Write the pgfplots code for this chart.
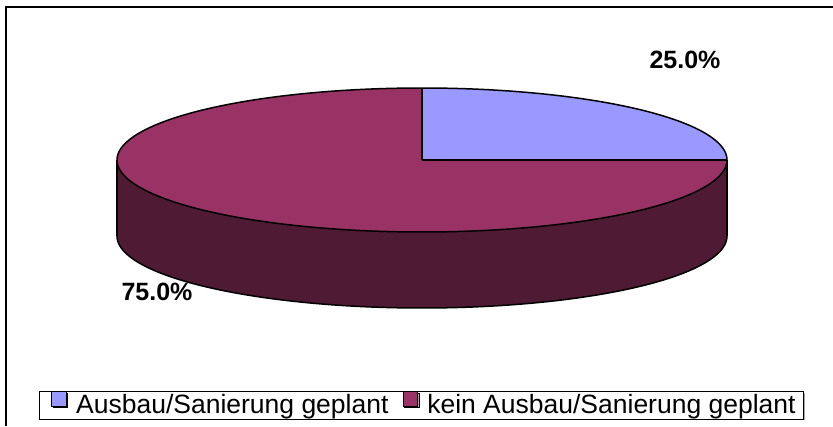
\documentclass[border=0pt]{standalone}
\usepackage{pgfplots}
\pgfplotsset{compat=1.18}
\usepackage{pgfplotstable}
\usepgfplotslibrary{fillbetween}
\usetikzlibrary{shadows}
\usepackage{fontspec}
\setmainfont{Liberation Sans}
\definecolor{pieblue}{RGB}{153,153,255}
\definecolor{piered}{RGB}{153,51,102}
\definecolor{pieside}{RGB}{78,26,52}

\pgfplotstableread{
label value
A 25.0
B 75.0
}\pietable
\pgfplotstablegetelem{0}{value}\of\pietable \edef\valA{\pgfplotsretval}
\pgfplotstablegetelem{1}{value}\of\pietable \edef\valB{\pgfplotsretval}
\pgfmathsetmacro\angS{90}
\pgfmathsetmacro\angA{90-3.6*\valA}
\pgfmathsetmacro\angB{\angA-3.6*\valB}
\def\cx{422}\def\cy{160}\def\rx{305}\def\ry{72}\def\dd{76}

\begin{document}%
\begin{tikzpicture}
\begin{axis}[
  scale only axis, width=833pt, height=426pt,
  xmin=0, xmax=833, ymin=0, ymax=426, y dir=reverse,
  hide axis, clip=true,
  legend style={at={(axis cs:421.5,405)}, anchor=center, draw=black, line width=0.8pt,
    fill=white, font=\fontsize{26.5}{32}\selectfont, legend columns=2,
    inner xsep=8pt, inner ysep=0pt,
    nodes={inner xsep=0pt, inner ysep=0pt, text height=19pt, text depth=5pt},
    drop shadow={shadow xshift=1.5pt, shadow yshift=-1.5pt, fill=gray!70, opacity=1},
    /tikz/every even column/.append style={column sep=10pt}},
  legend image code/.code={\path (-4pt,0pt) (24pt,0pt);\draw[#1, draw=black, line width=0.8pt] (0pt,1pt) rectangle (14.5pt,15.5pt);},
]
% side of the pie (front half)
\addplot[name path=st, draw=none, domain=180:360, samples=180, forget plot] ({\cx+\rx*cos(x)},{\cy-\ry*sin(x)});
\addplot[name path=sb, draw=none, domain=180:360, samples=180, forget plot] ({\cx+\rx*cos(x)},{\cy+\dd-\ry*sin(x)});
\addplot[pieside, forget plot] fill between[of=st and sb];
% slices
\addplot[name path=cc, draw=none, domain=0:1, samples=2, forget plot] ({\cx},{\cy});
\addplot[name path=aA, draw=none, domain=\angA:\angS, samples=100, forget plot] ({\cx+\rx*cos(x)},{\cy-\ry*sin(x)});
\addplot[pieblue, forget plot] fill between[of=aA and cc];
\addplot[name path=aB, draw=none, domain=\angB:\angA, samples=270, forget plot] ({\cx+\rx*cos(x)},{\cy-\ry*sin(x)});
\addplot[piered, forget plot] fill between[of=aB and cc];
% outlines
\addplot[black, line width=1.5pt, domain=0:360, samples=360, forget plot] ({\cx+\rx*cos(x)},{\cy-\ry*sin(x)});
\addplot[black, line width=1.5pt, domain=180:360, samples=180, forget plot] ({\cx+\rx*cos(x)},{\cy+\dd-\ry*sin(x)});
\addplot[black, line width=1.5pt, domain=0:1, samples=2, forget plot] ({\cx-\rx},{\cy+x*\dd});
\addplot[black, line width=1.5pt, domain=0:1, samples=2, forget plot] ({\cx+\rx},{\cy+x*\dd});
\addplot[black, line width=1.5pt, domain=0:1, samples=2, forget plot] ({\cx+x*\rx*cos(\angS)},{\cy-x*\ry*sin(\angS)});
\addplot[black, line width=1.5pt, domain=0:1, samples=2, forget plot] ({\cx+x*\rx*cos(\angA)},{\cy-x*\ry*sin(\angA)});
% outer frame
\addplot[black, line width=1.6pt, forget plot] coordinates {(6,426) (6,7) (833,7)};
% labels
\node[font=\bfseries\fontsize{25}{30}\selectfont] at (axis cs:685,60) {25.0\%};
\node[font=\bfseries\fontsize{25}{30}\selectfont] at (axis cs:157,292) {75.0\%};
% legend
\addlegendimage{fill=pieblue}
\addlegendentry{Ausbau/Sanierung geplant}
\addlegendimage{fill=piered}
\addlegendentry{kein Ausbau/Sanierung geplant}
\end{axis}
\end{tikzpicture}%
\end{document}
